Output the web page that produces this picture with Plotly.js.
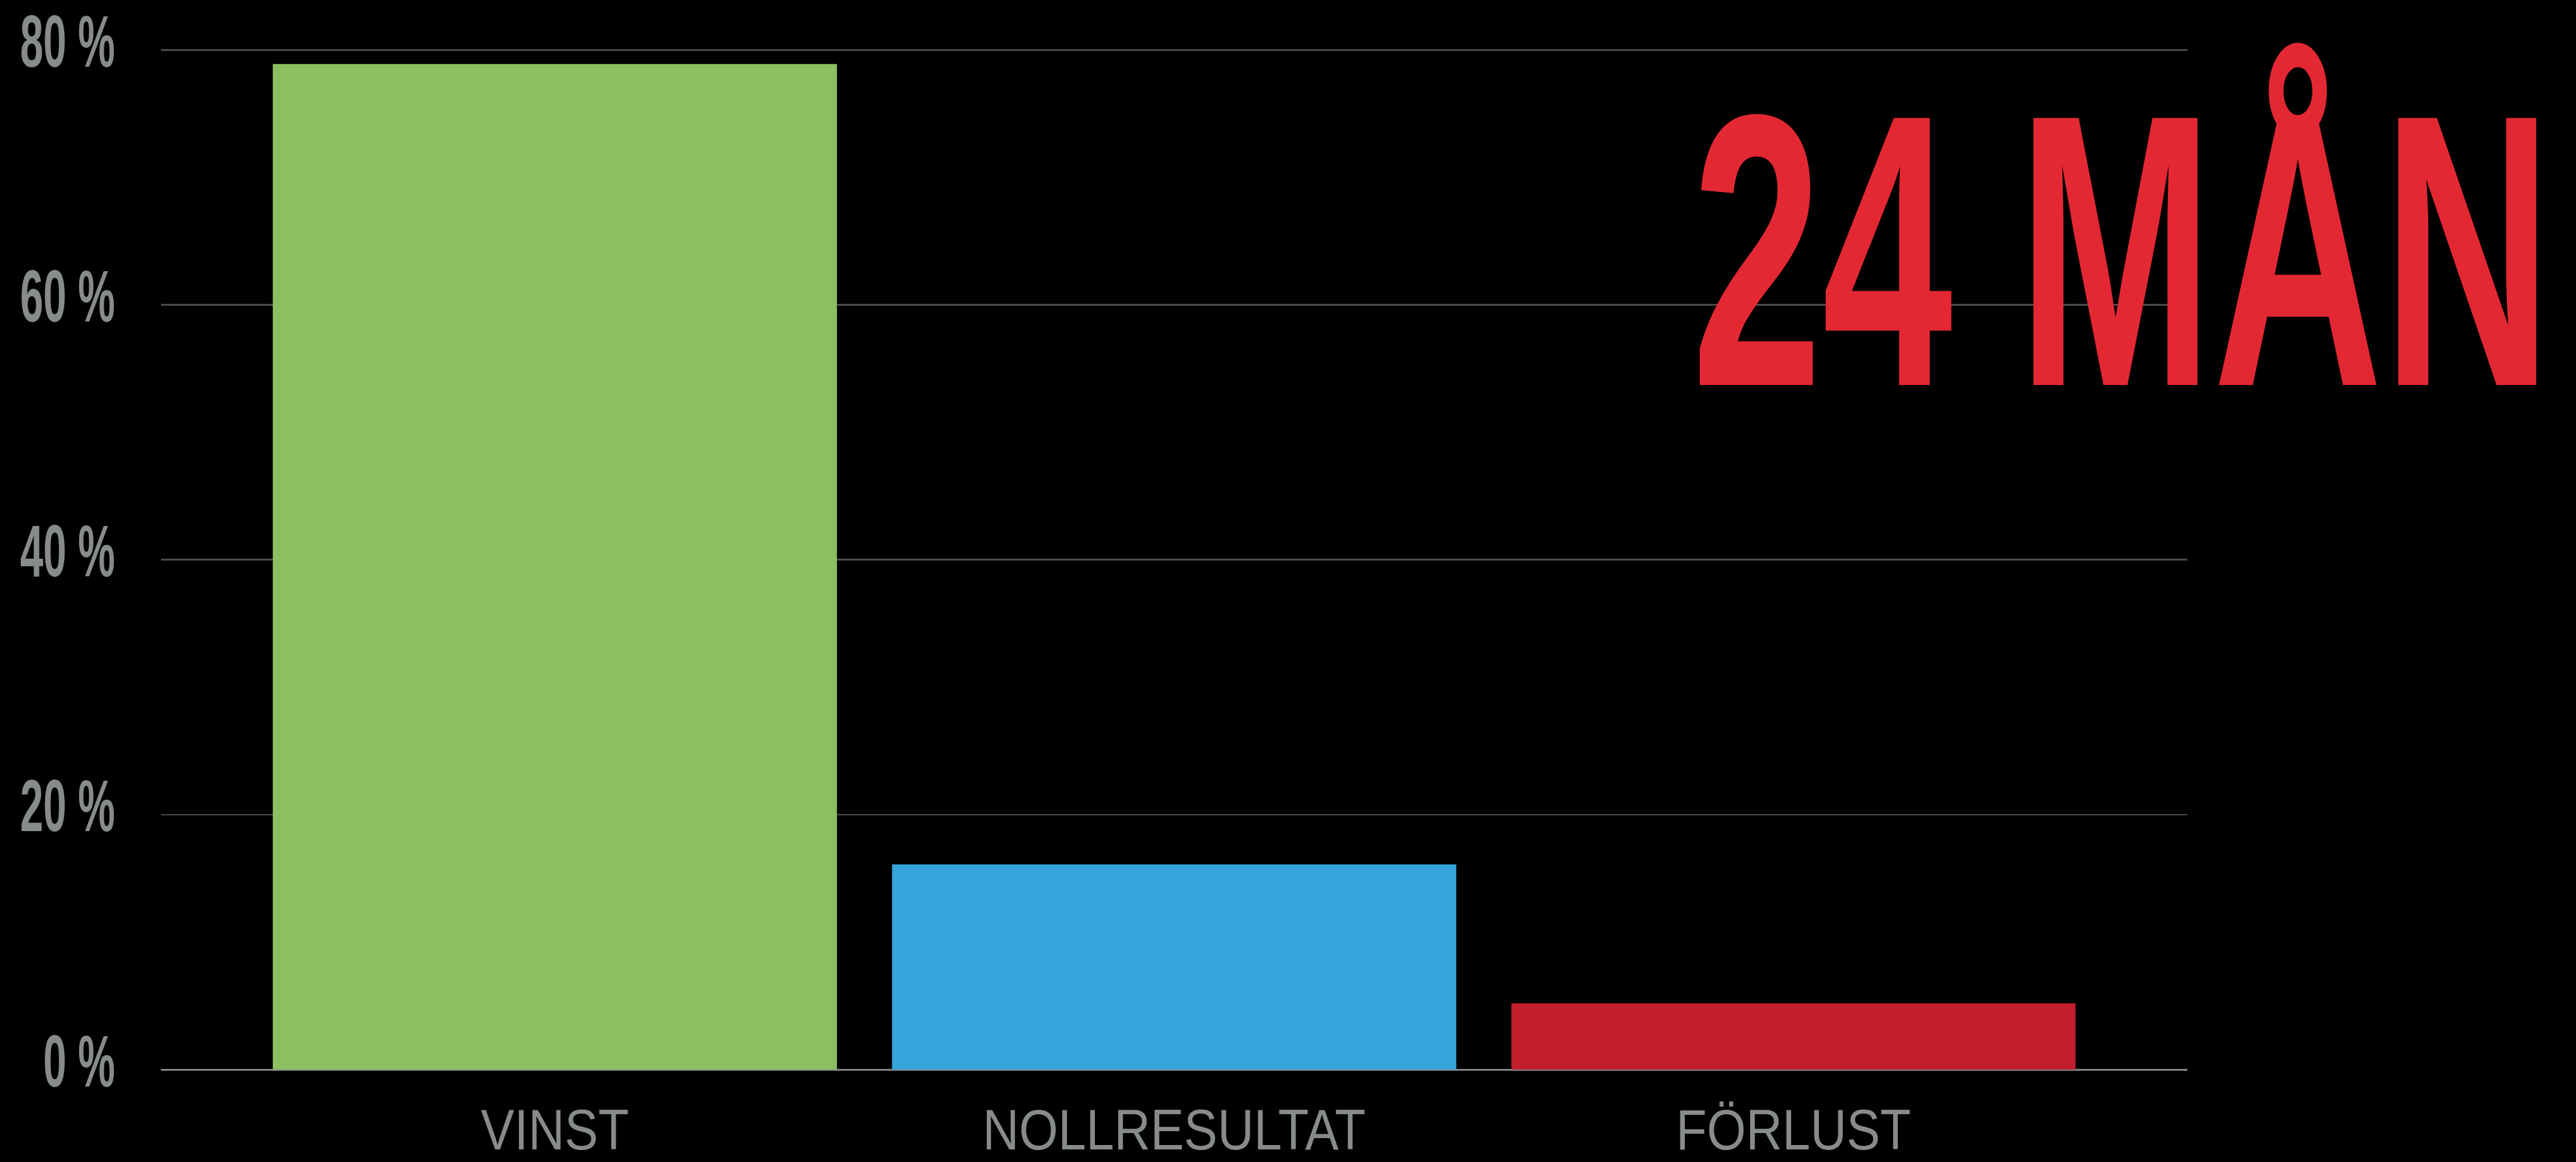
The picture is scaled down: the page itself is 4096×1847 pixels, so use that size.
<!DOCTYPE html>
<html><head><meta charset="utf-8">
<script src="https://cdn.plot.ly/plotly-3.0.1.min.js"></script>
<style>html,body{margin:0;padding:0;background:#000;overflow:hidden}</style>
</head><body>
<div id="chart" style="width:4096px;height:1847px"></div>
<script>
// ---- data ----
const categories = ["VINST", "NOLLRESULTAT", "FÖRLUST"];
const shares = [78.9, 16.1, 5.2];
const yTickValues = [0, 20, 40, 60, 80];
const yTickLabels = ["0 %", "20 %", "40 %", "60 %", "80 %"];
const headline = "24 MÅN";

// ---- styles ----
const barColors = ["#8CBF60", "#35A4DA", "#C41E2E"];
const labelGrey = "#878B8C";
const fontFam = "Liberation Sans, Arial, sans-serif";

const trace = {
  type: "bar",
  x: categories,
  y: shares,
  marker: {color: barColors, line: {width: 0}},
  hoverinfo: "skip"
};

const layout = {
  width: 4096, height: 1847,
  paper_bgcolor: "#000", plot_bgcolor: "#000",
  margin: {l: 256, r: 618, t: 39, b: 147, pad: 0},
  showlegend: false,
  bargap: 0.089,
  xaxis: {
    type: "category",
    range: [-0.636, 2.636],
    showgrid: false, zeroline: false, showline: false,
    ticks: "", ticklabelstandoff: 36,
    tickfont: {family: fontFam, size: 90, color: labelGrey},
    automargin: false, fixedrange: true
  },
  yaxis: {
    range: [0, 82],
    tickmode: "array", tickvals: yTickValues, ticktext: yTickLabels,
    showgrid: true, gridcolor: "#4b4b4b", gridwidth: 2.7,
    zeroline: true, zerolinecolor: "#808485", zerolinewidth: 3,
    showline: false, ticks: "", ticklabelstandoff: 72,
    tickfont: {family: fontFam, size: 116, color: labelGrey, weight: "bold"},
    automargin: false, fixedrange: true
  },
  annotations: [{
    text: headline, showarrow: false,
    xref: "paper", yref: "paper", x: 1.1803, y: 0.9921,
    xanchor: "right", yanchor: "top", borderpad: 0,
    font: {family: fontFam, size: 617, color: "#E32833", weight: "bold"}
  }]
};

function squeeze(el, sx, anchor, dy) {
  const bb = el.getBBox();
  const cx = anchor === "right" ? bb.x + bb.width : bb.x + bb.width / 2;
  const prev = el.getAttribute("transform") || "";
  el.setAttribute("transform",
    prev + " translate(" + cx + "," + (dy || 0) + ") scale(" + sx + ",1) translate(" + (-cx) + ",0)");
}

Plotly.newPlot("chart", [trace], layout, {staticPlot: true, displayModeBar: false}).then(function (gd) {
  // condensed lettering like the original
  const yt = Array.from(gd.querySelectorAll(".ytick text"));
  const ref80 = yt.find(t => t.textContent === "80 %") || yt[yt.length - 1];
  const syY = 151 / ref80.getBBox().width;
  yt.forEach(t => squeeze(t, syY, "right", -14));

  const xt = Array.from(gd.querySelectorAll(".xtick text"));
  const refN = xt.find(t => t.textContent === "NOLLRESULTAT") || xt[1];
  const sxX = 609 / refN.getBBox().width;
  xt.forEach(t => squeeze(t, sxX, "center", 0));

  const at = gd.querySelector(".annotation-text");
  if (at) squeeze(at, 1368 / at.getBBox().width, "right", 0);
});
</script>
</body></html>
